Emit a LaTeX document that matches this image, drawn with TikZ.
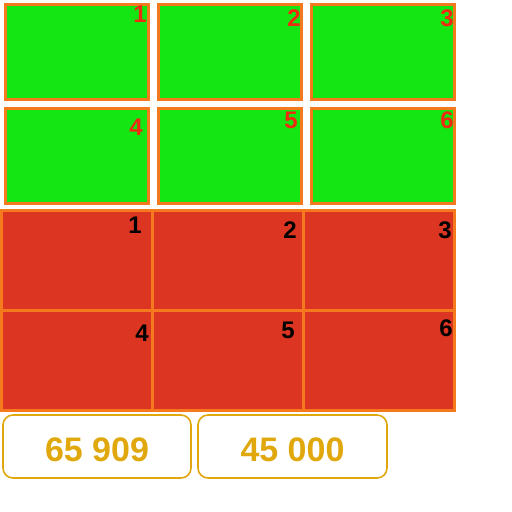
\documentclass[tikz,border=0pt]{standalone}
\usepackage{fontspec}
\setmainfont{Liberation Sans}
\definecolor{cellgreen}{HTML}{14E614}
\definecolor{cellred}{HTML}{DC3522}
\definecolor{edgeorange}{HTML}{F57A1E}
\definecolor{markred}{HTML}{F02A10}
\definecolor{gold}{HTML}{E0A80C}
\tikzset{
  greencell/.style={draw=edgeorange, line width=3pt, fill=cellgreen, minimum width=143pt, minimum height=95pt, inner sep=0pt},
  redcell/.style={draw=edgeorange, line width=3pt, fill=cellred, minimum width=151pt, minimum height=100pt, inner sep=0pt},
  sumbox/.style={draw=gold, line width=1.6pt, rounded corners=10pt, fill=white, minimum height=63pt, inner sep=0pt, text=gold, font=\fontsize{34}{36}\selectfont\bfseries},
  cellnum/.style={font=\fontsize{24}{26}\selectfont\bfseries}
}
\begin{document}
\begin{tikzpicture}[x=1pt, y=-1pt]
  \useasboundingbox[fill=white] (0,0) rectangle (512,512);

  % Green cells
  \foreach \i/\x/\y in {1/77/52, 2/230/52, 3/383/52, 4/77/155.5, 5/230/155.5, 6/383/155.5}
    \node[greencell] (g\i) at (\x,\y) {};

  % Red cells
  \foreach \i/\x/\y in {1/77/260.5, 2/228/260.5, 3/379/260.5, 4/77/360.5, 5/228/360.5, 6/379/360.5}
    \node[redcell] (r\i) at (\x,\y) {};

  % Handwritten numbers
  \node[cellnum, text=markred] (gn1) at (140,14) {1};
  \node[cellnum, text=markred] (gn2) at (294,18) {2};
  \node[cellnum, text=markred] (gn3) at (447,18) {3};
  \node[cellnum, text=markred] (gn4) at (136,127) {4};
  \node[cellnum, text=markred] (gn5) at (291,120) {5};
  \node[cellnum, text=markred] (gn6) at (447,120) {6};
  \node[cellnum] (rn1) at (135,225) {1};
  \node[cellnum] (rn2) at (290,230) {2};
  \node[cellnum] (rn3) at (445,230) {3};
  \node[cellnum] (rn4) at (142,333) {4};
  \node[cellnum] (rn5) at (288,330) {5};
  \node[cellnum] (rn6) at (446,328) {6};

  % Totals
  \node[sumbox, minimum width=188pt] (total1) at (97,446.5) {};
  \node[sumbox, minimum width=189pt] (total2) at (292.5,446.5) {};
  \node[sumbox, draw=none, fill=none] (sum1) at (total1.center) [yshift=-3pt] {65 909};
  \node[sumbox, draw=none, fill=none] (sum2) at (total2.center) [yshift=-3pt] {45 000};
\end{tikzpicture}
\end{document}
